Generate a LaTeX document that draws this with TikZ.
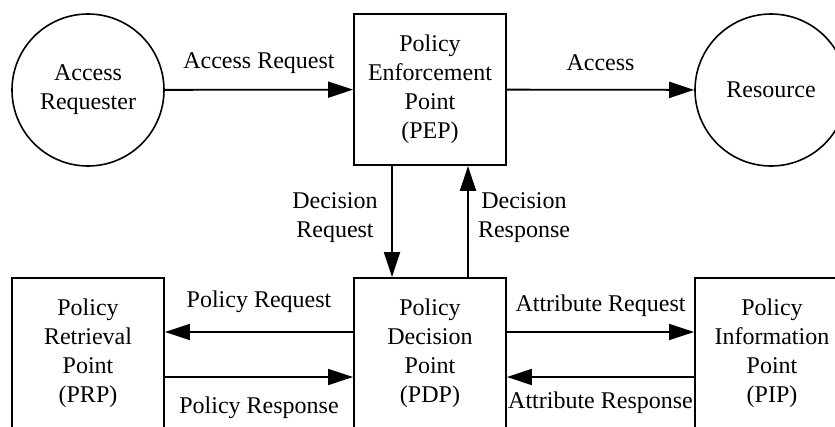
\documentclass[tikz,border=0pt]{standalone}
\usepackage{fontspec}
\setmainfont{Liberation Serif}
\usetikzlibrary{arrows.meta}
\begin{document}
\begin{tikzpicture}[x=1pt,y=-1pt,
  every node/.style={font=\fontsize{24}{29}\selectfont, align=center},
  actor/.style={draw, circle, line width=1.6pt, minimum size=152pt, inner sep=0pt},
  pointbox/.style={draw, rectangle, line width=1.8pt, minimum width=152pt, minimum height=151pt, inner sep=0pt},
  arr/.style={line width=1.8pt, -{Triangle[length=25pt,width=16pt]}},
  lbl/.style={inner sep=0pt}
]
\clip (0,0) rectangle (835,426);
\fill[white] (0,0) rectangle (835,426);

% entities
\node[actor] (ar) at (88,90) {Access\\Requester};
\node[pointbox] (pep) at (430,89.5) {Policy\\Enforcement\\Point\\(PEP)};
\node[actor] (res) at (771,90) {Resource};
\node[pointbox] (prp) at (88,353.5) {Policy\\Retrieval\\Point\\(PRP)};
\node[pointbox] (pdp) at (430,353.5) {Policy\\Decision\\Point\\(PDP)};
\node[pointbox, minimum width=154pt] (pip) at (772,353.5) {Policy\\Information\\Point\\(PIP)};

% top row
\draw[arr] (ar) -- node[lbl, pos=0.5, yshift=27pt] (lar) {Access Request} (pep);
\draw[arr] (pep) -- node[lbl, pos=0.5, yshift=27pt] (lac) {Access} (res);

% PEP <-> PDP
\draw[arr] ([xshift=-38pt]pep.south) -- node[lbl, pos=0.5, xshift=-57pt, yshift=3.5pt] (ldq) {Decision\\Request} ([xshift=-38pt]pdp.north);
\draw[arr] ([xshift=38pt]pdp.north) -- node[lbl, pos=0.5, xshift=56pt, yshift=3.5pt] (lds) {Decision\\Response} ([xshift=38pt]pep.south);

% PDP <-> PRP
\draw[arr] ([yshift=21.5pt]pdp.west) -- node[lbl, pos=0.5, yshift=30pt] (lpq) {Policy Request} ([yshift=21.5pt]prp.east);
\draw[arr] ([yshift=-23.5pt]prp.east) -- node[lbl, pos=0.5, yshift=-31pt] (lps) {Policy Response} ([yshift=-23.5pt]pdp.west);

% PDP <-> PIP
\draw[arr] ([yshift=21.5pt]pdp.east) -- node[lbl, pos=0.5, yshift=26pt] (laq) {Attribute Request} ([yshift=21.5pt]pip.west);
\draw[arr] ([yshift=-23.5pt]pip.west) -- node[lbl, pos=0.5, yshift=-26pt] (las) {Attribute Response} ([yshift=-23.5pt]pdp.east);
\end{tikzpicture}
\end{document}
